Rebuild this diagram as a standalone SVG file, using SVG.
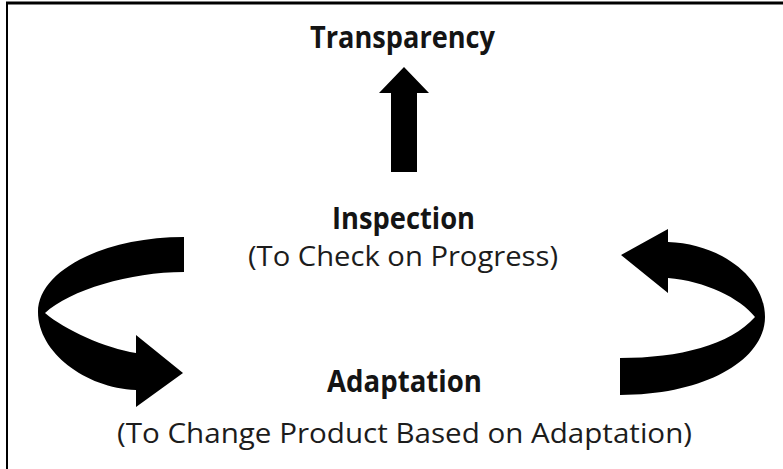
<svg xmlns="http://www.w3.org/2000/svg" width="783" height="469" viewBox="0 0 783 469">
  <style>
    .title { font-family: "Open Sans", "Noto Sans", "Liberation Sans", sans-serif; font-weight: 700; font-size: 30px; fill: #141414; }
    .sub { font-family: "Open Sans", "Noto Sans", "Liberation Sans", sans-serif; font-weight: 400; font-size: 28px; fill: #1c1c1c; }
    .shape { fill: #000; }
    .frame { stroke: #000; fill: none; }
  </style>

  <rect width="783" height="469" fill="#fff"/>

  <!-- frame: top and left edges only -->
  <line class="frame" x1="6" y1="3" x2="783" y2="3" stroke-width="3"/>
  <line class="frame" x1="7" y1="2" x2="7" y2="469" stroke-width="2"/>

  <g id="transparency">
    <text class="title" x="310" y="48" textLength="185" lengthAdjust="spacingAndGlyphs">Transparency</text>
  </g>

  <g id="inspection">
    <text class="title" x="332" y="229" textLength="143" lengthAdjust="spacingAndGlyphs">Inspection</text>
    <text class="sub" x="248" y="266" textLength="310" lengthAdjust="spacingAndGlyphs">(To Check on Progress)</text>
  </g>

  <g id="adaptation">
    <text class="title" x="327" y="392" textLength="155" lengthAdjust="spacingAndGlyphs">Adaptation</text>
    <text class="sub" x="117" y="443" textLength="575" lengthAdjust="spacingAndGlyphs">(To Change Product Based on Adaptation)</text>
  </g>

  <g id="connectors">
    <!-- block arrow up to Transparency -->
    <path class="shape" d="M391 172 L417 172 L417 93 L429 93 L404 67 L379 93 L391 93 Z"/>
    <!-- curved arrow: Inspection down to Adaptation (left side) -->
    <path class="shape" d="M184 237 C103 237 38 271 38 312 C38 352 85 388 136 390 L136 407 L183 373 L136 335 L136 353 C105 348 65 330 45 313 C70 290 130 272 184 272 Z"/>
    <!-- curved arrow: Adaptation back up to Inspection (right side) -->
    <path class="shape" d="M620 358 L620 395 C705 395 765 360 765 317 C765 278 722 244 668 242 L668 229 L621 255 L668 293 L668 278 C705 281 740 298 755 317 C730 345 680 358 620 358 Z"/>
  </g>
</svg>
